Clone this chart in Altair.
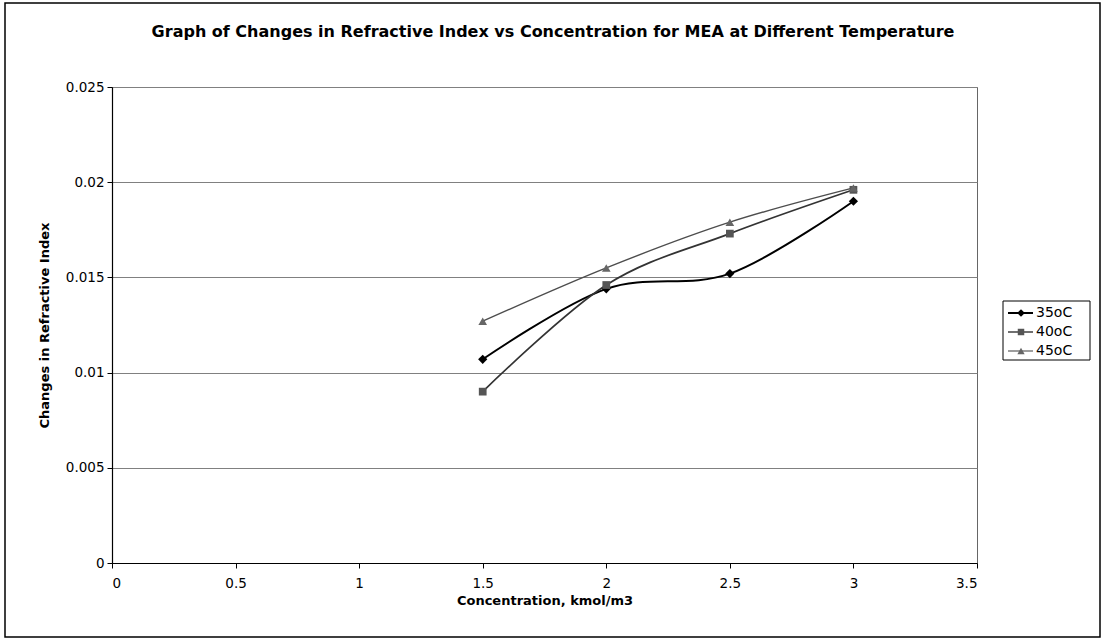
import altair as alt
import pandas as pd

# Refractive index change of MEA solutions vs concentration at three temperatures
concentration = [1.5, 2.0, 2.5, 3.0]
ri_35 = [0.0107, 0.0144, 0.0152, 0.0190]
ri_40 = [0.0090, 0.0146, 0.0173, 0.0196]
ri_45 = [0.0127, 0.0155, 0.0179, 0.0197]
series_names = ["35oC", "40oC", "45oC"]
x_ticks = [0, 0.5, 1, 1.5, 2, 2.5, 3, 3.5]
y_ticks = [0, 0.005, 0.01, 0.015, 0.02, 0.025]
chart_title = "Graph of Changes in Refractive Index vs Concentration for MEA at Different Temperature"

rows = []
for name, vals in zip(series_names, [ri_35, ri_40, ri_45]):
    for c, v in zip(concentration, vals):
        rows.append({"conc": c, "ri": v, "series": name})
df = pd.DataFrame(rows)
legend_df = pd.DataFrame({"series": series_names})

FONT = "DejaVu Sans"
line_colors = ["#000000", "#333333", "#4d4d4d"]
line_widths = [2.0, 1.4, 1.1]
marker_colors = ["#000000", "#555555", "#666666"]
marker_shapes = ["diamond", "square", "triangle-up"]
marker_sizes = [85, 60, 75]

x_enc = alt.X(
    "conc:Q",
    scale=alt.Scale(domain=[0, 3.5], nice=False),
    axis=alt.Axis(
        values=x_ticks, format="~g", title="Concentration, kmol/m3", grid=False,
        labelPadding=8, titlePadding=5,
    ),
)
y_enc = alt.Y(
    "ri:Q",
    scale=alt.Scale(domain=[0, 0.025], nice=False),
    axis=alt.Axis(
        values=y_ticks, format="~g", title="Changes in Refractive Index",
        grid=True, labelPadding=3, titlePadding=14,
    ),
)

base = alt.Chart(df).encode(x=x_enc, y=y_enc)

lines = base.mark_line(interpolate="cardinal").encode(
    color=alt.Color("series:N", scale=alt.Scale(domain=series_names, range=line_colors), legend=None),
    strokeWidth=alt.StrokeWidth(
        "series:N", scale=alt.Scale(domain=series_names, range=line_widths), legend=None
    ),
)

# One marker layer per series
marker_layers = [
    base.transform_filter(alt.datum.series == name).mark_point(
        filled=True, shape=shp, size=sz, color=col, opacity=1
    )
    for name, shp, sz, col in zip(series_names, marker_shapes, marker_sizes, marker_colors)
]

# Legend box in the right margin: line stub, marker and label per series
LEG_X, LEG_Y, LEG_W, ROW_H = 891, 214, 87, 19
legend_box = alt.Chart(pd.DataFrame({"k": [0]})).mark_rect(
    fill="#ffffff", stroke="#000000", strokeWidth=1
).encode(
    x=alt.value(LEG_X), x2=alt.value(LEG_X + LEG_W),
    y=alt.value(LEG_Y), y2=alt.value(LEG_Y + 3 * ROW_H + 2),
)
legend_layers = [legend_box]
for i, (name, shp, sz, mcol, lcol, lw) in enumerate(
    zip(series_names, marker_shapes, marker_sizes, marker_colors, line_colors, line_widths)
):
    row_y = LEG_Y + 12 + i * ROW_H
    entry = alt.Chart(legend_df).transform_filter(alt.datum.series == name)
    legend_layers.append(
        entry.mark_rule(color=lcol, strokeWidth=lw).encode(
            x=alt.value(LEG_X + 5), x2=alt.value(LEG_X + 30), y=alt.value(row_y)
        )
    )
    legend_layers.append(
        entry.mark_point(filled=True, shape=shp, size=sz * 0.7, color=mcol, opacity=1).encode(
            x=alt.value(LEG_X + 18), y=alt.value(row_y)
        )
    )
    legend_layers.append(
        entry.mark_text(
            font=FONT, fontSize=14, color="#000000", align="left", baseline="middle"
        ).encode(text="series:N", x=alt.value(LEG_X + 33), y=alt.value(row_y))
    )

# Outer chart border
frame = alt.Chart(pd.DataFrame({"k": [0]})).mark_rect(
    fillOpacity=0, stroke="#000000", strokeWidth=1.5
).encode(x=alt.value(-107), x2=alt.value(988), y=alt.value(-84), y2=alt.value(550))

# Chart heading, centred on the whole figure
heading = alt.Chart(pd.DataFrame({"t": [chart_title]})).mark_text(
    font=FONT, fontSize=16, fontWeight="bold", color="#000000",
    align="center", baseline="middle",
).encode(text="t:N", x=alt.value(441), y=alt.value(-55))

chart = (
    alt.layer(frame, heading, lines, *marker_layers, *legend_layers)
    .properties(
        width=865,
        height=476,
        padding={"left": 112, "top": 87, "right": 126, "bottom": 76},
        autosize=alt.AutoSizeParams(type="none"),
    )
    .configure(background="#ffffff")
    .configure_view(stroke="#666666", strokeWidth=1)
    .configure_axis(
        labelFont=FONT, labelFontSize=13.5, labelColor="#000000",
        titleFont=FONT, titleFontSize=13, titleFontWeight="bold", titleColor="#000000",
        domainColor="#000000", domainWidth=1.2, tickColor="#000000", tickSize=5,
        gridColor="#808080", gridWidth=1.2,
    )
)

chart.save("out.html", embed_options={"renderer": "svg", "actions": False})
